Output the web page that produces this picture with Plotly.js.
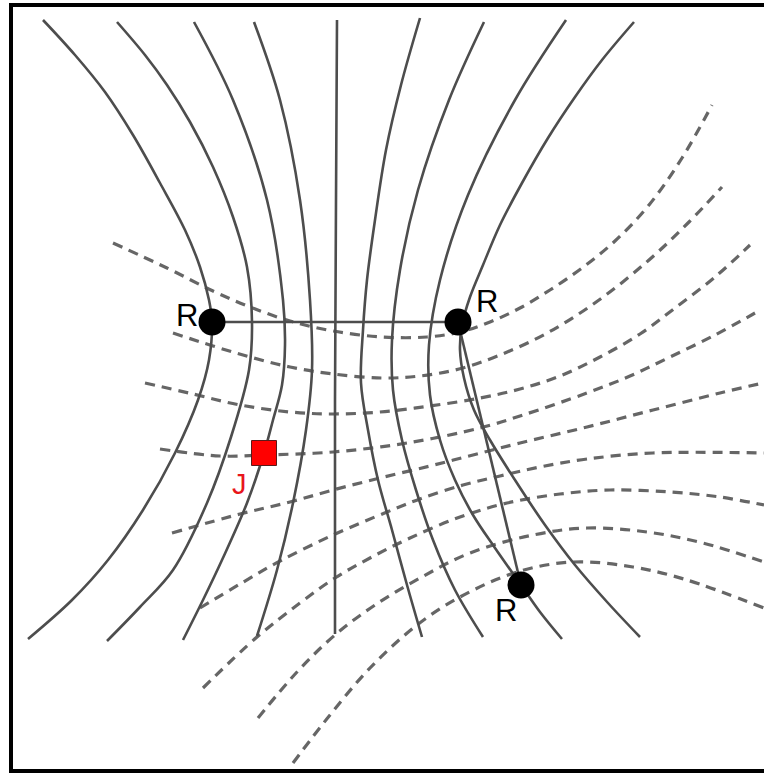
<!DOCTYPE html>
<html>
<head>
<meta charset="utf-8">
<script src="https://cdn.plot.ly/plotly-3.0.1.min.js"></script>
<style>html,body{margin:0;padding:0;background:#fff;}#chart{width:764px;height:774px;}</style>
</head>
<body>
<div id="chart"></div>
<script>
// Field lines (solid), traced as [x, y] points in picture units
const fieldLine1 = [[43,20],[75,55],[105,92],[133,135],[160,183],[185,230],[200,267],[209,300],[212,322],[209,360],[198,400],[175,453],[143,510],[108,560],[72,600],[28,639]];
const fieldLine2 = [[117,22],[145,55],[167,85],[190,122],[213,167],[233,217],[247,267],[252,322],[249,370],[231,437],[207,503],[173,570],[140,607],[107,641]];
const fieldLine3 = [[194,22],[233,100],[267,200],[283,300],[285,345],[282,385],[273,420],[264,453],[247,503],[222,560],[203,600],[183,640]];
const fieldLine4 = [[254,22],[280,100],[300,200],[310,300],[312,370],[306,430],[293,503],[277,570],[257,636]];
const fieldLine5 = [[337,20],[336,200],[335,400],[335,634]];
const fieldLine6 = [[420,18],[401,85],[386,150],[375,220],[367,280],[363,330],[361,383],[368,430],[378,480],[392,530],[407,585],[422,637]];
const fieldLine7 = [[484,22],[449,100],[418,190],[400,270],[392,340],[393,390],[402,440],[416,490],[433,540],[455,590],[483,637]];
const fieldLine8 = [[566,20],[515,100],[468,195],[440,280],[429,345],[430,395],[440,440],[455,480],[473,515],[495,548],[521,585],[540,612],[562,639]];
const fieldLine9 = [[634,22],[602,60],[575,97],[548,138],[522,183],[500,225],[483,265],[470,297],[462,325],[460,350],[464,378],[474,410],[490,440],[515,480],[545,525],[575,565],[608,603],[640,637]];
const linkRR = [[458,322],[521,585]];
const linkTop = [[212,322],[458,322]];

// Equipotential lines (dashed)
const equi1 = [[113,243],[167,268],[213,291],[250,307],[290,321],[333,331],[382,337],[427,337],[460,332],[490,322],[520,308],[550,290],[582,268],[615,241],[649,205],[682,158],[712,105]];
const equi2 = [[173,333],[213,346],[250,357],[290,367],[333,374],[382,378],[420,376],[459,369],[500,355],[549,332],[599,300],[649,260],[689,222],[722,187]];
const equi3 = [[145,383],[193,394],[240,405],[290,412],[333,414],[380,412],[430,406],[480,398],[520,389],[560,376],[600,357],[640,334],[675,308],[715,277],[750,245]];
const equi4 = [[160,449],[220,456],[264,455],[333,452],[407,443],[480,428],[520,416],[587,393],[630,376],[670,357],[715,335],[755,313]];
const equi5 = [[172,533],[240,514],[290,502],[333,490],[380,478],[430,466],[473,455],[520,443],[587,427],[653,410],[720,393],[763,383]];
const equi6 = [[200,608],[240,584],[280,561],[333,535],[387,512],[420,499],[463,485],[500,476],[540,467],[587,459],[653,453],[764,453]];
const equi7 = [[203,688],[257,637],[300,603],[335,578],[370,558],[410,538],[460,517],[507,503],[560,494],[610,490],[670,492],[720,497],[764,505]];
const equi8 = [[258,718],[297,672],[335,635],[375,605],[420,578],[470,553],[533,535],[587,528],[647,532],[703,543],[764,562]];
const equi9 = [[293,763],[330,715],[370,668],[417,625],[460,597],[517,572],[573,562],[633,567],[687,580],[764,608]];

// Points
const rPointsX = [212, 458, 521];
const rPointsY = [322, 322, 585];
const rLabels = ['R', 'R', 'R'];
const jPointX = [264];
const jPointY = [453];
const jLabel = 'J';

const solidLines = [fieldLine1, fieldLine2, fieldLine3, fieldLine4, fieldLine5, fieldLine6, fieldLine7, fieldLine8, fieldLine9];
const straightLines = [linkRR, linkTop];
const dashedLines = [equi1, equi2, equi3, equi4, equi5, equi6, equi7, equi8, equi9];

const traces = [];
dashedLines.forEach(function (pts) {
  traces.push({
    type: 'scatter', mode: 'lines', hoverinfo: 'skip', showlegend: false,
    x: pts.map(p => p[0]), y: pts.map(p => p[1]),
    line: {color: '#666666', width: 3.2, dash: '10px,7px', shape: 'spline', smoothing: 1}
  });
});
solidLines.forEach(function (pts) {
  traces.push({
    type: 'scatter', mode: 'lines', hoverinfo: 'skip', showlegend: false,
    x: pts.map(p => p[0]), y: pts.map(p => p[1]),
    line: {color: '#4d4d4d', width: 2.6, shape: 'spline', smoothing: 1}
  });
});
straightLines.forEach(function (pts) {
  traces.push({
    type: 'scatter', mode: 'lines', hoverinfo: 'skip', showlegend: false,
    x: pts.map(p => p[0]), y: pts.map(p => p[1]),
    line: {color: '#4d4d4d', width: 2.6}
  });
});
traces.push({
  type: 'scatter', mode: 'markers', hoverinfo: 'skip', showlegend: false,
  x: rPointsX, y: rPointsY,
  marker: {color: '#000000', size: 27, line: {width: 0}}
});
traces.push({
  type: 'scatter', mode: 'markers', hoverinfo: 'skip', showlegend: false,
  x: jPointX, y: jPointY,
  marker: {symbol: 'square', color: '#ff0000', size: 25, line: {color: '#5a1a1a', width: 1}}
});

const labelShifts = [
  {xanchor: 'right', xshift: -12, yshift: 7},
  {xanchor: 'left', xshift: 16, yshift: 21},
  {xanchor: 'center', xshift: -15, yshift: -25}
];
const annotations = rLabels.map(function (t, i) {
  return {
    x: rPointsX[i], y: rPointsY[i], xref: 'x', yref: 'y', text: t, showarrow: false,
    xanchor: labelShifts[i].xanchor, yanchor: 'middle',
    xshift: labelShifts[i].xshift, yshift: labelShifts[i].yshift,
    font: {family: 'Liberation Sans, Arial, sans-serif', size: 31, color: '#000000'}
  };
});
annotations.push({
  x: jPointX[0], y: jPointY[0], xref: 'x', yref: 'y', text: jLabel, showarrow: false,
  xanchor: 'center', yanchor: 'middle', xshift: -25, yshift: -31,
  font: {family: 'Liberation Sans, Arial, sans-serif', size: 29, color: '#e8161b'}
});

const layout = {
  width: 764, height: 774,
  margin: {l: 0, r: 0, t: 0, b: 0, pad: 0},
  paper_bgcolor: '#ffffff', plot_bgcolor: '#ffffff',
  xaxis: {range: [0, 764], visible: false, fixedrange: true},
  yaxis: {range: [774, 0], visible: false, fixedrange: true},
  showlegend: false,
  annotations: annotations,
  shapes: [{
    type: 'rect', xref: 'x', yref: 'y', x0: 11, x1: 790, y0: 5, y1: 771,
    line: {color: '#000000', width: 4}, fillcolor: 'rgba(0,0,0,0)', layer: 'below'
  }]
};

Plotly.newPlot('chart', traces, layout, {displayModeBar: false, staticPlot: true});
</script>
</body>
</html>
